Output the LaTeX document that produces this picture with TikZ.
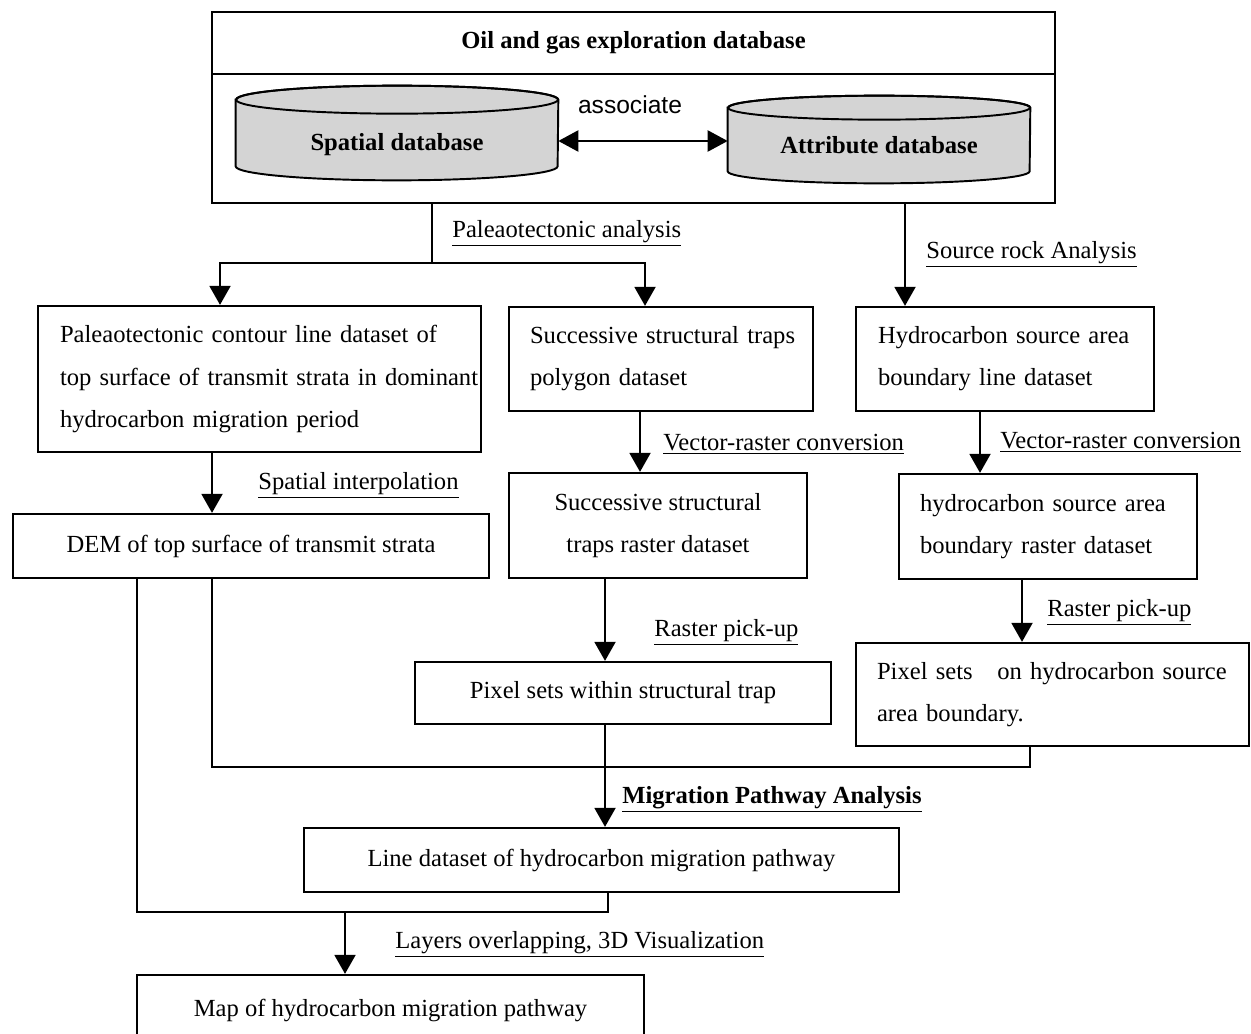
\documentclass[tikz,border=0pt]{standalone}
\usepackage{fontspec}
\setmainfont{Liberation Serif}
\newfontfamily\assocfont{Liberation Sans}
\usetikzlibrary{arrows.meta,backgrounds}
\definecolor{drumgray}{RGB}{212,212,212}

\begin{document}
\begin{tikzpicture}[x=0.02cm,y=-0.02cm,
    box/.style ={draw, line width=1.3pt, inner ysep=0pt, font=\fontsize{14}{24}\selectfont},
    lbox/.style ={box, align=left},
    cbox/.style ={box, align=center},
    drum/.style ={inner sep=0pt, font=\bfseries\fontsize{14}{24}\selectfont},
    lbl/.style ={anchor=west, inner sep=0pt, font=\fontsize{14}{24}\selectfont},
    line/.style ={line width=1.1pt},
    arrow/.style ={line width=1.1pt, -{Triangle[length=0.38cm,width=0.42cm]}},
    dblarrow/.style ={line width=1.3pt, {Triangle[length=0.4cm,width=0.42cm]}-{Triangle[length=0.4cm,width=0.42cm]}}]
   \useasboundingbox (0,0) rectangle (1251,1034);

   \node[box, minimum width=16.86cm, minimum height=1.24cm, font=\bfseries\fontsize{14}{24}\selectfont] (header) at (633.5,43) {Oil and gas exploration database};
   \node[box, minimum width=16.86cm, minimum height=2.58cm] (dbbody) at (633.5,138.5) {};
   \node[drum, minimum width=6.44cm, minimum height=1.88cm] (spatial) at (397,133) {\raisebox{-0.36cm}[0pt][0pt]{Spatial database}};
   \node[drum, minimum width=6.04cm, minimum height=1.74cm] (attrib) at (879,139.5) {\raisebox{-0.29cm}[0pt][0pt]{Attribute database}};
   \begin{scope}[on background layer]
     \filldraw[line width=1.1pt, fill=drumgray] ([yshift=-0.28cm]spatial.north west) -- ([yshift=0.28cm]spatial.south west)
        arc[start angle=180, end angle=360, x radius=3.22cm, y radius=0.28cm] -- ([yshift=-0.28cm]spatial.north east)
        arc[start angle=0, end angle=180, x radius=3.22cm, y radius=0.28cm] -- cycle;
     \draw[line width=1.1pt] ([yshift=-0.28cm]spatial.north) ellipse [x radius=3.22cm, y radius=0.28cm];
     \filldraw[line width=1.1pt, fill=drumgray] ([yshift=-0.24cm]attrib.north west) -- ([yshift=0.24cm]attrib.south west)
        arc[start angle=180, end angle=360, x radius=3.02cm, y radius=0.24cm] -- ([yshift=-0.24cm]attrib.north east)
        arc[start angle=0, end angle=180, x radius=3.02cm, y radius=0.24cm] -- cycle;
     \draw[line width=1.1pt] ([yshift=-0.24cm]attrib.north) ellipse [x radius=3.02cm, y radius=0.24cm];
   \end{scope}
   \node[inner sep=0pt, font=\assocfont\fontsize{14}{17}\selectfont] (assoc) at (630,105) {associate};
   \draw[dblarrow] ([yshift=-0.16cm]spatial.east) -- ([yshift=-0.16cm]spatial.east -| attrib.west);

   \node[lbox, minimum width=8.86cm, minimum height=2.92cm, text width=7.98cm, inner xsep=0.44cm] (paleo) at (259.5,379)
      {\mbox{Paleaotectonic contour line dataset of}\\\mbox{top surface of transmit strata in dominant}\\\mbox{hydrocarbon migration period}};
   \node[lbox, minimum width=6.08cm, minimum height=2.08cm, text width=5.24cm, inner xsep=0.42cm] (traps) at (661,359)
      {\mbox{Successive structural traps}\\\mbox{polygon dataset}};
   \node[lbox, minimum width=5.96cm, minimum height=2.08cm, text width=5.08cm, inner xsep=0.44cm] (source) at (1005,359)
      {\mbox{Hydrocarbon source area}\\\mbox{boundary line dataset}};
   \node[cbox, minimum width=9.52cm, minimum height=1.28cm] (dem) at (251,546) {DEM of top surface of transmit strata};
   \node[cbox, minimum width=5.96cm, minimum height=2.10cm] (trapras) at (658,525.5) {Successive structural\\traps raster dataset};
   \node[lbox, minimum width=5.96cm, minimum height=2.10cm, text width=5.12cm, inner xsep=0.42cm] (srcras) at (1048,526.5)
      {\mbox{hydrocarbon source area}\\\mbox{boundary raster dataset}};
   \node[cbox, minimum width=8.32cm, minimum height=1.24cm] (trappix) at (623,693) {Pixel sets within structural trap};
   \node[lbox, minimum width=7.86cm, minimum height=2.06cm, text width=7.02cm, inner xsep=0.42cm] (srcpix) at (1052.5,694.5)
      {\mbox{Pixel sets\ \ \ on hydrocarbon source}\\\mbox{area boundary.}};
   \node[cbox, minimum width=11.9cm, minimum height=1.28cm] (pathway) at (601.5,860) {Line dataset of hydrocarbon migration pathway};
   \node[cbox, minimum width=10.14cm, minimum height=1.40cm] (mapbox) at (390.5,1010) {Map of hydrocarbon migration pathway};

   \node[lbl] (lpaleo) at (452,233) {\underline{Paleaotectonic analysis}};
   \node[lbl] (lsource) at (926,254) {\underline{Source rock Analysis}};
   \node[lbl] (linterp) at (258,485) {\underline{Spatial interpolation}};
   \node[lbl] (lvec1) at (663,444) {\underline{Vector-raster conversion}};
   \node[lbl] (lvec2) at (1000,442) {\underline{Vector-raster conversion}};
   \node[lbl] (lpick1) at (654,632) {\underline{Raster pick-up}};
   \node[lbl] (lpick2) at (1047,612) {\underline{Raster pick-up}};
   \node[lbl, font=\bfseries\fontsize{14}{24}\selectfont] (lmigr) at (622,799) {\underline{Migration Pathway Analysis}};
   \node[lbl] (llayer) at (395,944) {\underline{Layers overlapping, 3D Visualization}};

   \coordinate (paleofork) at (432,263);
   \coordinate (paleoL) at (220,263);
   \coordinate (paleoR) at (645,263);
   \coordinate (srcx) at (905,263);
   \coordinate (join1) at (1030,767);
   \coordinate (join2) at (608,912);
   \coordinate (mapfork) at (345,912);

   \draw[line] (paleofork |- dbbody.south) -- (paleofork);
   \draw[arrow] (paleofork) -- (paleoL) -- (paleoL |- paleo.north);
   \draw[arrow] (paleofork) -- (paleoR) -- (paleoR |- traps.north);
   \draw[arrow] (srcx |- dbbody.south) -- (srcx |- source.north);
   \draw[arrow] ([xshift=-0.95cm]paleo.south) -- ([xshift=-0.95cm]paleo.south |- dem.north);
   \draw[arrow] ([xshift=-0.42cm]traps.south) -- ([xshift=-0.42cm]traps.south |- trapras.north);
   \draw[arrow] ([xshift=-0.5cm]source.south) -- ([xshift=-0.5cm]source.south |- srcras.north);
   \draw[arrow] ([xshift=-1.06cm]trapras.south) -- ([xshift=-1.06cm]trapras.south |- trappix.north);
   \draw[arrow] ([xshift=-0.52cm]srcras.south) -- ([xshift=-0.52cm]srcras.south |- srcpix.north);
   \draw[line] ([xshift=-0.78cm]dem.south) |- (join1) -- (join1 |- srcpix.south);
   \draw[arrow] ([xshift=-0.36cm]trappix.south) -- ([xshift=-0.36cm]trappix.south |- pathway.north);
   \draw[line] ([xshift=-2.28cm]dem.south) |- (join2) -- (join2 |- pathway.south);
   \draw[arrow] (mapfork) -- (mapfork |- mapbox.north);
\end{tikzpicture}
\end{document}
